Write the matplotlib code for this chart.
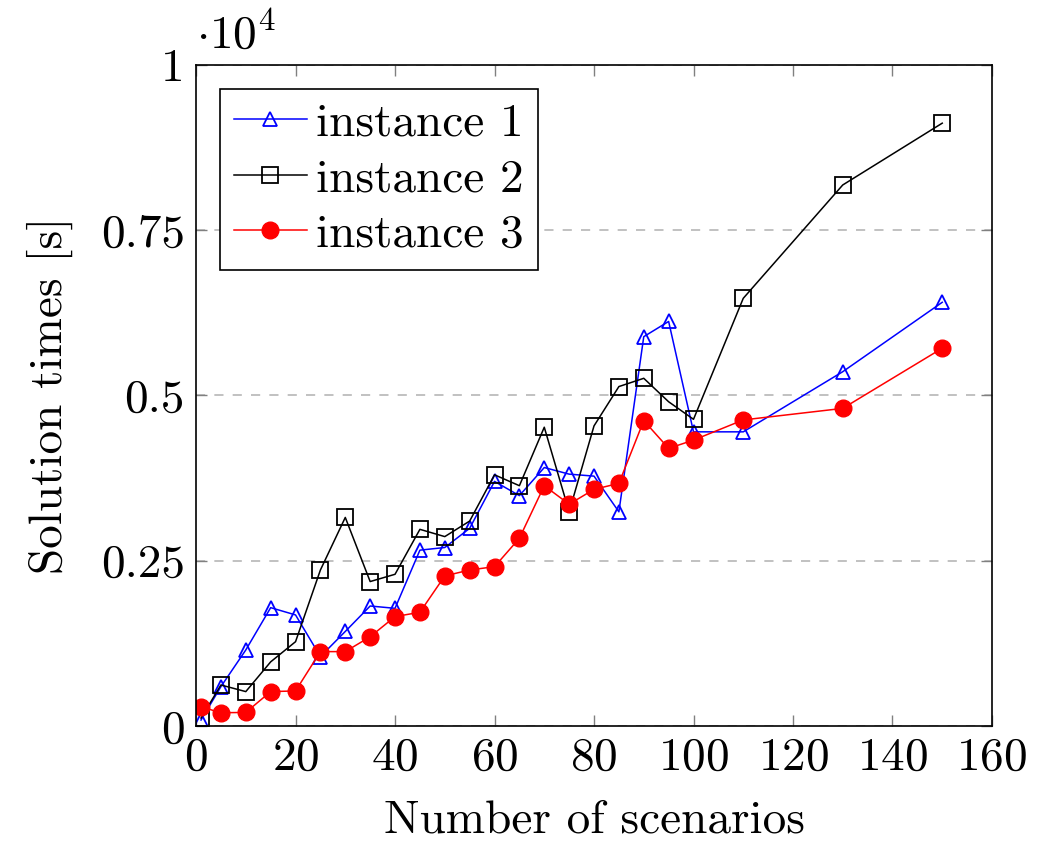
import matplotlib
matplotlib.use("Agg")
import matplotlib.pyplot as plt
from matplotlib.ticker import FuncFormatter

plt.rcParams['font.family'] = ['cmr10', 'DejaVu Serif']
plt.rcParams['mathtext.fontset'] = 'cm'
plt.rcParams['axes.formatter.use_mathtext'] = True

# scenario counts (x) and solution times in seconds (y)
scenarios = [1, 5, 10, 15, 20, 25, 30, 35, 40, 45, 50, 55, 60, 65, 70, 75,
             80, 85, 90, 95, 100, 110, 130, 150]
instance1 = [90, 595, 1150, 1790, 1680, 1050, 1430, 1815, 1780, 2660, 2700, 2990,
             3700, 3485, 3910, 3810, 3780, 3240, 5890, 6120, 4450, 4450, 5360, 6410]
instance2 = [120, 620, 520, 970, 1275, 2360, 3155, 2185, 2295, 2975, 2865, 3100,
             3800, 3635, 4520, 3240, 4540, 5135, 5260, 4905, 4640, 6470, 8185, 9120]
instance3 = [290, 200, 205, 520, 530, 1125, 1125, 1350, 1655, 1720, 2270, 2360,
             2410, 2840, 3635, 3355, 3580, 3670, 4620, 4200, 4325, 4630, 4805, 5715]

FS = 34

fig = plt.figure(figsize=(10.58, 8.42), dpi=100)
ax = fig.add_axes([0.1853, 0.1378, 0.7523, 0.785])

ax.plot(scenarios, instance1, color='blue', lw=1.1, marker='^', markersize=10,
        markerfacecolor='none', markeredgecolor='blue', markeredgewidth=1.3,
        label='instance 1')
ax.plot(scenarios, instance2, color='black', lw=1.1, marker='s', markersize=12,
        markerfacecolor='none', markeredgecolor='black', markeredgewidth=1.3,
        label='instance 2')
ax.plot(scenarios, instance3, color='red', lw=1.1, marker='o', markersize=12,
        markerfacecolor='red', markeredgecolor='red', label='instance 3')

ax.set_xlim(0, 160)
ax.set_ylim(0, 10000)
ax.set_xticks(range(0, 161, 20))
ax.set_yticks([0, 2500, 5000, 7500, 10000])
ax.yaxis.set_major_formatter(FuncFormatter(lambda v, p: '%g' % (v / 1e4)))
ax.grid(axis='y', color='#b0b0b0', linestyle=(0, (6, 6)), linewidth=1.1)
ax.set_axisbelow(True)

ax.tick_params(direction='in', length=8, width=1, color='#808080',
               top=True, right=True, labelsize=FS, pad=8)
for s in ax.spines.values():
    s.set_linewidth(1.2)

ax.set_xlabel('Number of scenarios', fontsize=FS, labelpad=15)
ax.set_ylabel('Solution times [s]', fontsize=FS, labelpad=20)
ax.text(0.0, 1.012, r'$\cdot 10^4$', transform=ax.transAxes, fontsize=FS,
        ha='left', va='bottom')

leg = ax.legend(loc='upper left', fontsize=FS, frameon=True, fancybox=False,
                edgecolor='black', handlelength=1.55, handletextpad=0.2,
                borderpad=0.3, labelspacing=0.28, borderaxespad=0.5)
leg.get_frame().set_linewidth(1.2)
leg.get_frame().set_alpha(1)

fig.savefig('out.png', dpi=100)
